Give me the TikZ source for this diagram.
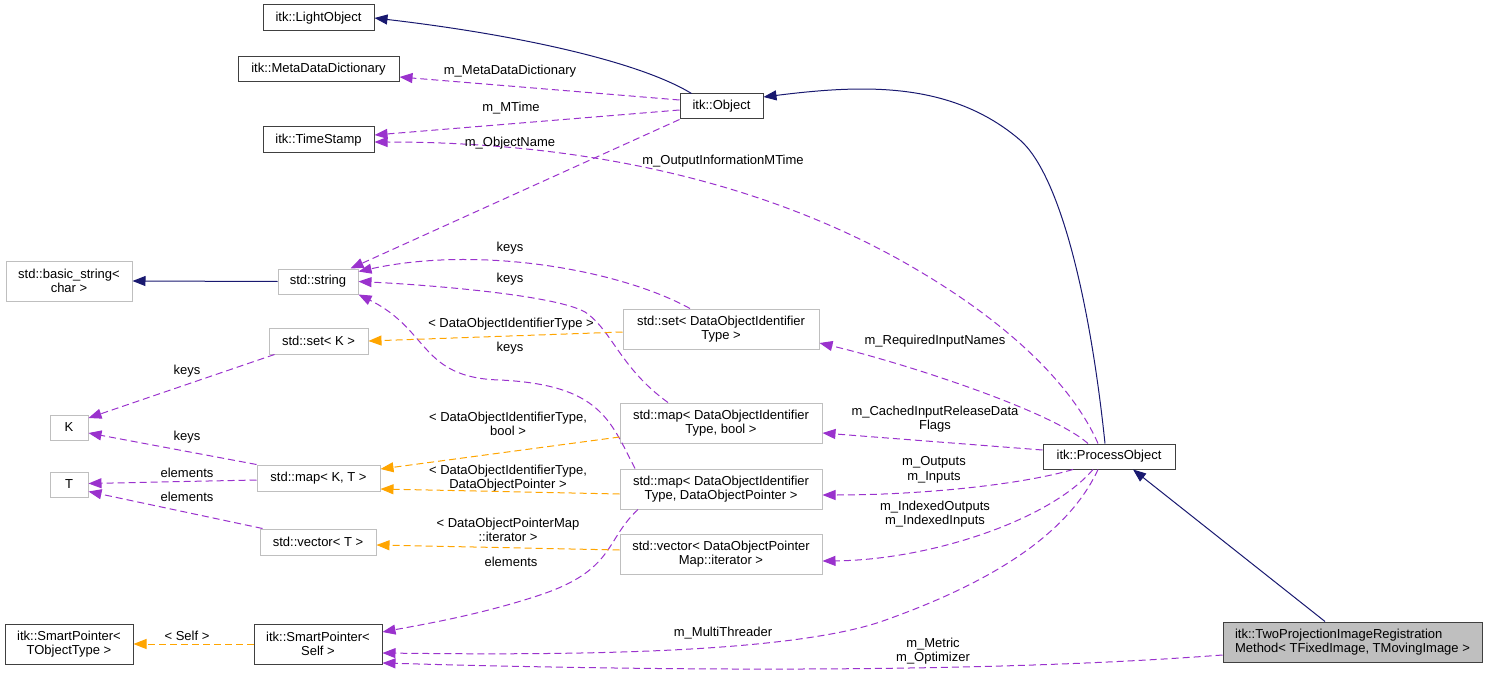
\documentclass[tikz,border=0pt]{standalone}
\usepackage{fontspec}
\setmainfont{Liberation Sans}
\usetikzlibrary{arrows.meta}
\definecolor{inheritLine}{HTML}{191970}
\definecolor{usageLine}{HTML}{9A32CD}
\definecolor{templLine}{HTML}{FFA500}
\definecolor{docBorder}{HTML}{404040}
\definecolor{extBorder}{HTML}{BFBFBF}
\definecolor{curFill}{HTML}{BFBFBF}
\newcommand{\dgfont}{\fontsize{13}{14.5}\selectfont}
\tikzset{
    docclass/.style={
        draw=docBorder,
        fill=white,
        line width=1pt,
        inner sep=1pt,
        align=center,
        font=\dgfont
    },
    extclass/.style={
        draw=extBorder,
        fill=white,
        line width=1pt,
        inner sep=1pt,
        align=center,
        font=\dgfont
    },
    curclass/.style={
        draw=docBorder,
        fill=curFill,
        line width=1pt,
        inner sep=1pt,
        align=left,
        font=\dgfont
    },
    inherit/.style={
        -{Triangle[length=13pt,width=10pt]},
        draw=inheritLine,
        line width=1pt
    },
    usage/.style={
        -{Triangle[length=13pt,width=10pt]},
        draw=usageLine,
        line width=1pt,
        dash pattern=on 7pt off 4pt
    },
    templ/.style={
        -{Triangle[length=13pt,width=10pt]},
        draw=templLine,
        line width=1pt,
        dash pattern=on 7pt off 4pt
    },
    elabel/.style={
        font=\dgfont,
        text=black,
        align=center,
        inner sep=0pt
    }
}

\begin{document}
\begin{tikzpicture}[x=1pt,y=-1pt]
    \useasboundingbox (0,0) rectangle (1488,679);

    % Documented itk classes
    \node[docclass, minimum width=111pt, minimum height=26pt] (LightObject) at (318.5,18) {itk::LightObject};
    \node[docclass, minimum width=161pt, minimum height=25pt] (MetaDict) at (318.5,69.5) {itk::MetaDataDictionary};
    \node[docclass, minimum width=111pt, minimum height=26pt] (TimeStamp) at (318.5,140) {itk::TimeStamp};
    \node[docclass, minimum width=83pt, minimum height=25pt] (Object) at (721.5,106.5) {itk::Object};
    \node[docclass, minimum width=132pt, minimum height=25pt] (ProcessObject) at (1109,456.5) {itk::ProcessObject};
    \node[docclass, minimum width=128pt, minimum height=40pt] (SPObjType) at (69,644) {itk::SmartPointer<\\TObjectType >};
    \node[docclass, minimum width=128pt, minimum height=40pt] (SPSelf) at (318,644) {itk::SmartPointer<\\Self >};
    \node[curclass, minimum width=259pt, minimum height=40pt] (TwoProj) at (1352.5,642)
        {itk::TwoProjectionImageRegistration\\Method< TFixedImage, TMovingImage >};

    % External std classes
    \node[extclass, minimum width=126pt, minimum height=40pt] (BasicString) at (69,281) {std::basic\_string<\\char >};
    \node[extclass, minimum width=80pt, minimum height=25pt] (StdString) at (318,281.5) {std::string};
    \node[extclass, minimum width=99pt, minimum height=26pt] (SetK) at (318.5,341) {std::set< K >};
    \node[extclass, minimum width=38pt, minimum height=25pt] (K) at (69,427.5) {K};
    \node[extclass, minimum width=38pt, minimum height=25pt] (T) at (69,484.5) {T};
    \node[extclass, minimum width=123pt, minimum height=26pt] (MapKT) at (318.5,478) {std::map< K, T >};
    \node[extclass, minimum width=116pt, minimum height=26pt] (VectorT) at (318,542) {std::vector< T >};
    \node[extclass, minimum width=196pt, minimum height=40pt] (SetDOIT) at (721,329) {std::set< DataObjectIdentifier\\Type >};
    \node[extclass, minimum width=202pt, minimum height=40pt] (MapBool) at (721,423) {std::map< DataObjectIdentifier\\Type, bool >};
    \node[extclass, minimum width=202pt, minimum height=40pt] (MapDOP) at (721,489) {std::map< DataObjectIdentifier\\Type, DataObjectPointer >};
    \node[extclass, minimum width=202pt, minimum height=40pt] (VecIter) at (721,554) {std::vector< DataObjectPointer\\Map::iterator >};

    % Inheritance
    \draw[inherit] ([xshift=-30pt]Object.north) .. controls (640,62) and (520,35) .. (LightObject.east);
    \draw[inherit] ([xshift=-4pt]ProcessObject.north) .. controls (1090,300) and (1060,175) .. (1020,140)
        .. controls (950,80) and (860,85) .. ([yshift=9.5pt]Object.east);
    \draw[inherit] ([xshift=-27.5pt]TwoProj.north) -- ([xshift=24pt]ProcessObject.south);
    \draw[inherit] (StdString.west) -- (BasicString.east);

    % Usage relations
    \draw[usage] ([yshift=6.5pt]Object.west) -- ([yshift=-7.5pt]MetaDict.east);
    \draw[usage] ([yshift=-3.5pt]Object.west) -- ([yshift=5pt]TimeStamp.east);
    \draw[usage] (Object.south west) -- ([xshift=-8pt]StdString.north east);
    \draw[usage] ([xshift=-11pt]ProcessObject.north) .. controls (1070,380) and (1000,316) .. (900,260)
        .. controls (720,160) and (520,142) .. ([yshift=-2pt]TimeStamp.east);
    \draw[usage] ([xshift=-31pt]SetDOIT.north) .. controls (620,270) and (480,245) .. ([yshift=10pt]StdString.east);
    \draw[usage] ([xshift=-53pt]MapBool.north) .. controls (620,368) and (612,330) .. (585,312)
        .. controls (555,295) and (430,285) .. (StdString.east);
    \draw[usage] ([xshift=-86pt]MapDOP.north) .. controls (610,420) and (600,385) .. (500,380)
        .. controls (420,378) and (430,330) .. (StdString.south east);
    \draw[usage] ([xshift=-83pt]MapDOP.south) .. controls (605,540) and (615,570) .. (540,595)
        .. controls (480,615) and (420,625) .. ([yshift=12pt]SPSelf.east);
    \draw[usage] ([xshift=6pt]SetK.south west) -- ([yshift=9.5pt]K.east);
    \draw[usage] (MapKT.north west) -- ([yshift=-5.5pt]K.east);
    \draw[usage] ([yshift=-2pt]MapKT.west) -- ([yshift=1pt]T.east);
    \draw[usage] ([xshift=3pt]VectorT.north west) -- ([yshift=-7pt]T.east);
    \draw[usage] ([xshift=-21pt]ProcessObject.north) .. controls (1050,410) and (900,362) .. ([yshift=-14pt]SetDOIT.east);
    \draw[usage] ([yshift=6.5pt]ProcessObject.west) -- ([yshift=-10pt]MapBool.east);
    \draw[usage] ([xshift=-36pt]ProcessObject.south) .. controls (1020,485) and (920,495) .. ([yshift=-6pt]MapDOP.east);
    \draw[usage] ([xshift=-16pt]ProcessObject.south) .. controls (1050,520) and (930,560) .. ([yshift=-7pt]VecIter.east);
    \draw[usage] ([xshift=-11pt]ProcessObject.south) .. controls (1070,530) and (1000,580) .. (880,622)
        .. controls (780,655) and (550,655) .. ([yshift=-9pt]SPSelf.east);
    \draw[usage] ([yshift=-13pt]TwoProj.west) .. controls (1000,672) and (700,672) .. ([yshift=-19pt]SPSelf.east);

    % Template instances
    \draw[templ] ([yshift=-3pt]SetDOIT.west) -- (SetK.east);
    \draw[templ] ([yshift=-14pt]MapBool.west) -- ([yshift=9pt]MapKT.east);
    \draw[templ] ([yshift=-5pt]MapDOP.west) -- ([yshift=-11pt]MapKT.east);
    \draw[templ] ([yshift=4pt]VecIter.west) -- ([yshift=-3pt]VectorT.east);
    \draw[templ] (SPSelf.west) -- (SPObjType.east);

    % Edge labels
    \node[elabel] (lMetaDict) at (510,71) {m\_MetaDataDictionary};
    \node[elabel] (lMTime) at (511,108) {m\_MTime};
    \node[elabel] (lObjName) at (510,143) {m\_ObjectName};
    \node[elabel] (lOutInfo) at (723,161) {m\_OutputInformationMTime};
    \node[elabel] (lKeysA) at (510,248) {keys};
    \node[elabel] (lKeysB) at (510,279) {keys};
    \node[elabel] (lSetDOIT) at (511,324) {< DataObjectIdentifierType >};
    \node[elabel] (lKeysC) at (510,348) {keys};
    \node[elabel] (lKeysD) at (187,371) {keys};
    \node[elabel] (lKeysE) at (187,437) {keys};
    \node[elabel] (lElemA) at (187,473) {elements};
    \node[elabel] (lElemB) at (187,497) {elements};
    \node[elabel] (lMapBool) at (508,424) {< DataObjectIdentifierType,\\bool >};
    \node[elabel] (lMapDOP) at (508,478) {< DataObjectIdentifierType,\\DataObjectPointer >};
    \node[elabel] (lVecIter) at (508,530) {< DataObjectPointerMap\\::iterator >};
    \node[elabel] (lElemC) at (511,562) {elements};
    \node[elabel] (lSelf) at (187,636) {< Self >};
    \node[elabel] (lReqIn) at (935,341) {m\_RequiredInputNames};
    \node[elabel] (lCached) at (935,419) {m\_CachedInputReleaseData\\Flags};
    \node[elabel] (lInOut) at (934,470) {m\_Outputs\\m\_Inputs};
    \node[elabel] (lIndexed) at (935,514) {m\_IndexedOutputs\\m\_IndexedInputs};
    \node[elabel] (lThreader) at (723,633) {m\_MultiThreader};
    \node[elabel] (lMetric) at (933,651) {m\_Metric\\m\_Optimizer};

\end{tikzpicture}
\end{document}
